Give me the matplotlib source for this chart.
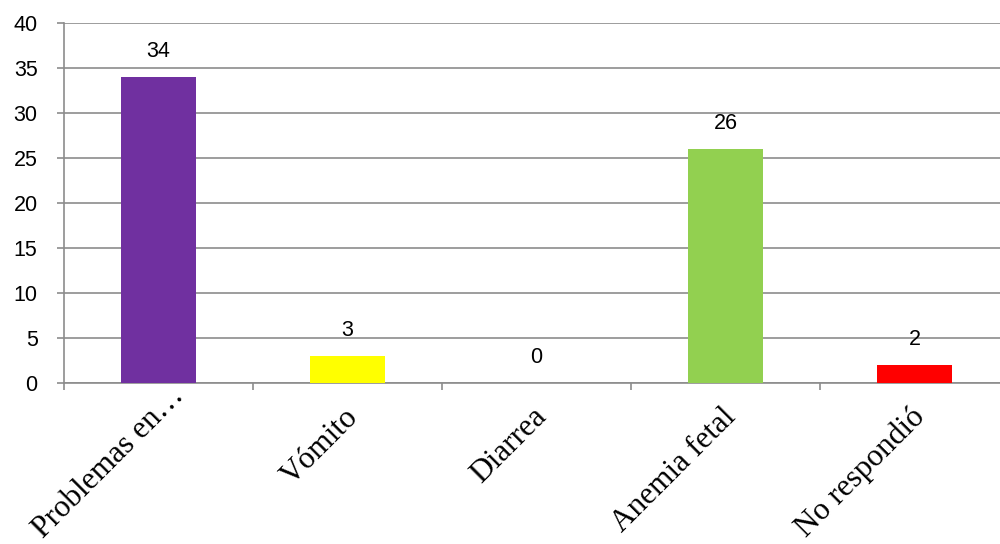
import matplotlib
matplotlib.use("Agg")
import matplotlib.pyplot as plt

categories = ["Problemas en…", "Vómito", "Diarrea", "Anemia fetal", "No respondió"]
values = [34, 3, 0, 26, 2]
colors = ["#7030A0", "#FFFF00", "#FFFF00", "#92D050", "#FF0000"]
yticks = [0, 5, 10, 15, 20, 25, 30, 35, 40]

fig = plt.figure(figsize=(10, 5.44), dpi=100)
ax = fig.add_axes([0.064, 0.296, 0.945, 0.662])

x = list(range(len(categories)))
bars = ax.bar(x, values, width=0.4, color=colors, zorder=3)

ax.set_xlim(-0.5, len(categories) - 0.5)
ax.set_ylim(0, 40)
ax.set_yticks(yticks)
ax.set_yticklabels([str(v) for v in yticks], fontsize=15.5, family="Liberation Sans")
ax.grid(axis="y", color="#8c8c8c", linewidth=1.2, zorder=0)

gray = "#8c8c8c"
for s in ["top", "right"]:
    ax.spines[s].set_visible(False)
ax.spines["left"].set_color(gray)
ax.spines["bottom"].set_color(gray)
ax.spines["left"].set_linewidth(1.2)
ax.spines["bottom"].set_linewidth(1.2)
ax.tick_params(axis="y", length=5, color=gray, width=1.2, pad=14)

# category boundary ticks on x axis
ax.set_xticks([i - 0.5 for i in range(len(categories) + 1)])
ax.set_xticklabels([])
ax.tick_params(axis="x", length=5, color=gray, width=1.2)

for i, lab in enumerate(categories):
    # truncated label sits a bit higher / further right, like in excel
    off = (8, 1) if lab.endswith("…") else (-3, -14)
    ax.annotate(lab, xy=(i, 0), xycoords=("data", "axes fraction"),
                xytext=off, textcoords="offset points",
                rotation=45, ha="right", va="top", rotation_mode="anchor",
                fontsize=22.5, family="Liberation Serif")

for i, v in enumerate(values):
    ax.annotate(str(v), xy=(i, v), xytext=(0, 11), textcoords="offset points",
                ha="center", va="bottom", fontsize=15.5, family="Liberation Sans")

fig.savefig("out.png", dpi=100)
